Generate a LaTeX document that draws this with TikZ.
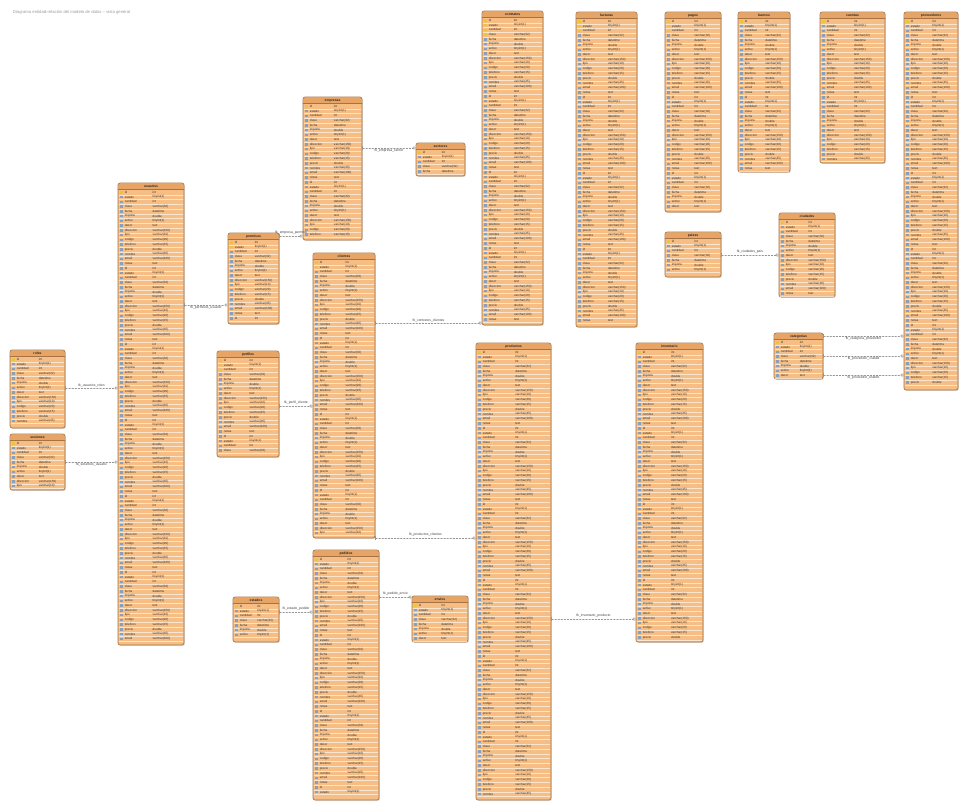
\documentclass[tikz,border=0pt]{standalone}
\usepackage{fontspec}
\setmainfont{Liberation Sans}
\usetikzlibrary{arrows.meta,fit,shadows}

\definecolor{tblfill}{RGB}{246,190,132}
\definecolor{tblhead}{RGB}{232,164,100}
\definecolor{tblline}{RGB}{165,115,70}
\definecolor{keycol}{RGB}{236,196,60}
\definecolor{colicon}{RGB}{135,160,190}
\definecolor{fkgray}{RGB}{150,150,150}

\newcommand\fldname[1]{\ifcase#1 id\or nombre\or codigo\or descr\or fecha\or estado\or email\or telefono\or direccion\or importe\or cantidad\or notas\or precio\or tipo\or activo\or clave\fi}
\newcommand\fldtype[1]{\ifcase#1 int\or varchar(45)\or varchar(20)\or text\or datetime\or tinyint(1)\or varchar(100)\or varchar(15)\or varchar(150)\or double\or int\or text\or double\or varchar(10)\or tinyint(1)\or varchar(32)\fi}

\tikzset{
  tblbox/.style={draw=tblline,fill=tblfill,rounded corners=1.5pt,inner sep=0pt,line width=0.5pt,
    drop shadow={opacity=0.25,shadow xshift=0.7pt,shadow yshift=-0.7pt}},
  tbltitle/.style={font=\fontsize{2.4}{2.8}\selectfont\bfseries,inner sep=0pt,text=black!85},
  cell/.style={font=\fontsize{2.2}{2.6}\selectfont,inner sep=0pt,anchor=west,text=black!80},
  fkline/.style={draw=fkgray,line width=0.3pt,dash pattern=on 1.2pt off 1pt,
    {Bar[width=3pt]}-{Circle[open,length=2.2pt,width=2.2pt]}},
  fklabel/.style={font=\fontsize{2.4}{2.8}\selectfont,inner sep=0.8pt,text=black!75}
}

\begin{document}
\begin{tikzpicture}[x=0.25mm,y=-0.25mm,line cap=round]
  \useasboundingbox (0,0) rectangle (960,801);
  \node[font=\fontsize{3}{3.5}\selectfont,text=black!40,anchor=west] (caption) at (8,12)
    {Diagrama entidad-relación del modelo de datos -- vista general};
  % tablas: nombre / x1 / y1 / x2 / y2 / claves
  \foreach \t/\xa/\ya/\xb/\yb/\nk in {usuarios/118/183/184/645/1, roles/10/350/65/428/1,
      sesiones/10/434/65/490/1, permisos/228/233/279/324/2, perfiles/217/351/279/457/3,
      empresas/303/97/362/240/1, sectores/416/143/465/176/1, clientes/313/253/375/538/2,
      contratos/482/11/543/325/4, facturas/576/12/637/327/3, pagos/665/12/721/212/3,
      bancos/738/12/790/172/1, cuentas/820/12/885/163/1, proveedores/904/12/958/390/1,
      paises/665/232/721/277/1, ciudades/779/213/835/297/1, categorias/774/333/823/379/1,
      productos/476/343/551/800/1, inventario/636/343/703/642/1, pedidos/313/550/379/800/1,
      estados/233/597/279/642/1, envios/412/596/468/642/1} {
    \node[tblbox,fit={(\xa,\ya) (\xb,\yb)}] (\t) {};
    \fill[tblhead] (\xa+0.7,\ya+0.7) rectangle (\xb-0.7,\ya+6.5);
    \draw[tblline,line width=0.35pt] (\xa,\ya+6.5) -- (\xb,\ya+6.5);
    \node[tbltitle] (\t-h) at ({(\xa+\xb)/2},\ya+3.6) {\t};
    \pgfmathtruncatemacro\nr{(\yb-\ya-8)/4.75-1}
    \pgfmathsetmacro\xt{\xa+0.52*(\xb-\xa)}
    \foreach \i in {0,...,\nr} {
      \pgfmathsetmacro\yc{\ya+7+(\i+0.5)*4.75}
      \pgfmathtruncatemacro\k{mod(\i*5,16)}
      \ifnum\i<\nk \def\ic{keycol}\else\def\ic{colicon}\fi
      \fill[\ic] (\xa+2,\yc-1.2) rectangle (\xa+4.6,\yc+1.2);
      \draw[white,opacity=0.6,line width=0.25pt] (\xa+1,\yc+2.375) -- (\xb-1,\yc+2.375);
      \node[cell] (\t-\i-f) at (\xa+6.5,\yc) {\fldname{\k}};
      \node[cell] (\t-\i-d) at (\xt,\yc) {\fldtype{\k}};
    }
  }
  % relaciones
  \foreach \a/\b/\y/\p/\l in {roles/usuarios/388/above/fk\_usuarios\_roles,
      sesiones/usuarios/462/below/fk\_sesiones\_usuario,
      usuarios/permisos/305/below/fk\_permisos\_usuario,
      permisos/empresas/236/above/fk\_empresa\_permiso,
      empresas/sectores/148/below/fk\_empresa\_sector,
      clientes/contratos/323/above/fk\_contratos\_clientes,
      perfiles/clientes/406/above/fk\_perfil\_cliente,
      clientes/productos/538/above/fk\_productos\_clientes,
      estados/pedidos/612/above/fk\_estado\_pedido,
      pedidos/envios/597/above/fk\_pedido\_envio,
      productos/inventario/619/above/fk\_inventario\_producto,
      paises/ciudades/255/above/fk\_ciudades\_pais,
      categorias/proveedores/336/below/fk\_categoria\_proveedor,
      categorias/proveedores/356/below/fk\_proveedor\_ciudad,
      categorias/proveedores/375/below/fk\_proveedor\_estado}
    \draw[fkline] (\a.east |- 0,\y) -- node[fklabel,\p] (lbl\y) {\l} (\b.west |- 0,\y);
\end{tikzpicture}
\end{document}
